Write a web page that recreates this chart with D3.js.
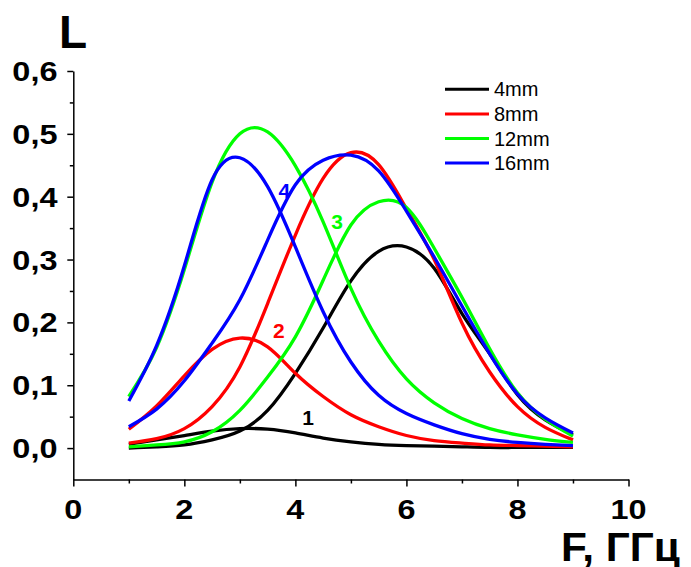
<!DOCTYPE html>
<html>
<head>
<meta charset="utf-8">
<script src="https://cdn.jsdelivr.net/npm/d3@7"></script>
<style>
  html, body { margin: 0; padding: 0; background: #fff; }
  svg { display: block; font-family: "Liberation Sans", Arial, sans-serif; }
</style>
</head>
<body>
<svg id="chart" width="691" height="567"></svg>
<script>
// ---- data ----
const freq = [1, 1.5, 2, 2.5, 3, 3.5, 4, 4.5, 5, 5.5, 6, 6.5, 7, 7.5, 8, 8.5, 9];

const mm4_a  = [0.006, 0.013, 0.020, 0.027, 0.031, 0.030, 0.024, 0.016, 0.010, 0.006, 0.004, 0.003, 0.002, 0.001, 0.001, 0.001, 0.001];
const mm4_b  = [0.000, 0.002, 0.005, 0.013, 0.027, 0.060, 0.119, 0.191, 0.266, 0.313, 0.320, 0.286, 0.214, 0.150, 0.085, 0.045, 0.021];
const mm8_a  = [0.030, 0.067, 0.115, 0.157, 0.175, 0.161, 0.119, 0.082, 0.053, 0.034, 0.020, 0.012, 0.008, 0.005, 0.004, 0.003, 0.002];
const mm8_b  = [0.008, 0.015, 0.031, 0.066, 0.129, 0.230, 0.339, 0.429, 0.470, 0.451, 0.381, 0.300, 0.199, 0.121, 0.066, 0.033, 0.013];
const mm12_a = [0.082, 0.160, 0.284, 0.423, 0.500, 0.503, 0.449, 0.360, 0.254, 0.170, 0.110, 0.072, 0.047, 0.031, 0.021, 0.014, 0.009];
const mm12_b = [0.002, 0.005, 0.010, 0.026, 0.060, 0.113, 0.177, 0.267, 0.355, 0.392, 0.383, 0.318, 0.240, 0.158, 0.088, 0.046, 0.019];
const mm16_a = [0.075, 0.163, 0.290, 0.427, 0.462, 0.416, 0.320, 0.217, 0.137, 0.084, 0.055, 0.037, 0.023, 0.014, 0.009, 0.006, 0.004];
const mm16_b = [0.034, 0.062, 0.107, 0.167, 0.236, 0.331, 0.419, 0.458, 0.466, 0.441, 0.377, 0.304, 0.226, 0.150, 0.086, 0.048, 0.024];

const seriesNames = ["4mm", "8mm", "12mm", "16mm"];
const curveLabels = ["1", "2", "3", "4"];
const xMajorTicks = [0, 2, 4, 6, 8, 10];
const xMinorTicks = [1, 3, 5, 7, 9];
const yMajorTicks = [0, 0.1, 0.2, 0.3, 0.4, 0.5, 0.6];
const yMinorTicks = [0.05, 0.15, 0.25, 0.35, 0.45, 0.55];

// ---- styling / layout ----
const colors = ["#000000", "#ff0000", "#00ff00", "#0000ff"];
const seriesData = [[mm4_a, mm4_b], [mm8_a, mm8_b], [mm12_a, mm12_b], [mm16_a, mm16_b]];
const labelPos = [[4.23, 0.037], [3.70, 0.175], [4.75, 0.349], [3.80, 0.398]];

const svg = d3.select("#chart");
const x = d3.scaleLinear().domain([0, 10]).range([73.3, 628.5]);
const y = d3.scaleLinear().domain([-0.05, 0.6]).range([479.5, 71]);

const fmt = v => d3.format(".1f")(v).replace(".", ",");

// axes
const xAxisG = svg.append("g").attr("transform", `translate(0,${y(-0.05)})`);
xAxisG.call(d3.axisBottom(x).tickValues(xMajorTicks).tickSize(7).tickSizeOuter(0).tickFormat(""));
const xMinorG = svg.append("g").attr("transform", `translate(0,${y(-0.05)})`);
xMinorG.call(d3.axisBottom(x).tickValues(xMinorTicks).tickSize(4).tickSizeOuter(0).tickFormat(""));
xMinorG.select(".domain").remove();

const yAxisG = svg.append("g").attr("transform", `translate(${x(0)},0)`);
yAxisG.call(d3.axisLeft(y).tickValues(yMajorTicks).tickSize(6).tickSizeOuter(0).tickFormat(""));
const yMinorG = svg.append("g").attr("transform", `translate(${x(0)},0)`);
yMinorG.call(d3.axisLeft(y).tickValues(yMinorTicks).tickSize(3.5).tickSizeOuter(0).tickFormat(""));
yMinorG.select(".domain").remove();

svg.selectAll(".domain, .tick line").attr("stroke", "#000").attr("stroke-width", 1.5);

// tick labels
svg.append("g").selectAll("text").data(xMajorTicks).join("text")
  .attr("transform", d => `translate(${x(d)},518.5) scale(1.2,1)`)
  .attr("text-anchor", "middle")
  .attr("font-size", 27).attr("font-weight", "bold")
  .text(d => d);

svg.append("g").selectAll("text").data(yMajorTicks).join("text")
  .attr("transform", d => `translate(57.5,${y(d)}) scale(1.16,1)`)
  .attr("text-anchor", "end").attr("dy", "0.36em")
  .attr("font-size", 28).attr("font-weight", "bold")
  .text(d => fmt(d));

// axis titles
svg.append("text").attr("x", 59).attr("y", 48)
  .attr("font-size", 46).attr("font-weight", "bold").text("L");
svg.append("text").attr("transform", "translate(561,561) scale(1.06,1)")
  .attr("font-size", 40).attr("font-weight", "bold").text("F, ГГц");

// curves
const line = d3.line()
  .x((d, i) => x(freq[i]))
  .y(d => y(d))
  .curve(d3.curveNatural);

seriesData.forEach((pair, si) => {
  pair.forEach(vals => {
    svg.append("path")
      .attr("d", line(vals))
      .attr("fill", "none")
      .attr("stroke", colors[si])
      .attr("stroke-width", 3.3)
      .attr("stroke-linejoin", "round");
  });
});

// curve number labels
svg.append("g").selectAll("text").data(curveLabels).join("text")
  .attr("x", (d, i) => x(labelPos[i][0]))
  .attr("y", (d, i) => y(labelPos[i][1]))
  .attr("text-anchor", "middle")
  .attr("font-size", 21).attr("font-weight", "bold")
  .attr("fill", (d, i) => colors[i])
  .text(d => d);

// legend
const legend = svg.append("g");
seriesNames.forEach((name, i) => {
  const ly = 89.3 + i * 24.6;
  legend.append("line").attr("x1", 445).attr("x2", 489).attr("y1", ly).attr("y2", ly)
    .attr("stroke", colors[i]).attr("stroke-width", 3);
  legend.append("text").attr("x", 494).attr("y", ly + 7)
    .attr("font-size", 20).text(name);
});
</script>
</body>
</html>
